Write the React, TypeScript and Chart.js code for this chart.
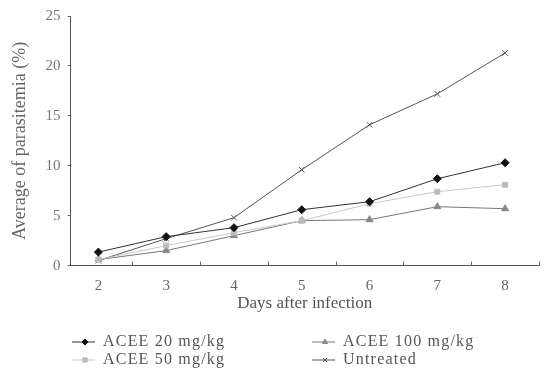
import React, { useEffect, useRef } from "react";
import { Chart, registerables } from "chart.js";
import { drawPoint } from "chart.js/helpers";

Chart.register(...registerables);

const days = [2, 3, 4, 5, 6, 7, 8];
const acee20 = [1.35, 2.9, 3.8, 5.6, 6.4, 8.7, 10.3];
const acee50 = [0.6, 2.0, 3.3, 4.5, 6.2, 7.4, 8.1];
const acee100 = [0.6, 1.5, 3.0, 4.5, 4.6, 5.9, 5.7];
const untreated = [0.5, 2.7, 4.8, 9.6, 14.1, 17.2, 21.3];
const yTicks = [0, 5, 10, 15, 20, 25];

const FONT = "'Liberation Serif', 'DejaVu Serif', serif";

const xTickMarks = {
  id: "xTickMarks",
  afterDraw(chart: any) {
    const ctx = chart.ctx;
    const xs = chart.scales.x;
    const bottom = chart.chartArea.bottom;
    ctx.save();
    ctx.strokeStyle = "#666";
    ctx.lineWidth = 1;
    days.forEach((d) => {
      const v = d + 0.5;
      if (v > xs.max) return;
      const px = Math.round(xs.getPixelForValue(v)) + 0.5;
      ctx.beginPath();
      ctx.moveTo(px, bottom);
      ctx.lineTo(px, bottom - 4);
      ctx.stroke();
    });
    ctx.restore();
  },
};

const legendPlugin = {
  id: "customLegend",
  afterDraw(chart: any) {
    const ctx = chart.ctx;
    const items = [
      { ds: 0, x: 72, y: 342 },
      { ds: 2, x: 312, y: 342 },
      { ds: 1, x: 72, y: 360 },
      { ds: 3, x: 312, y: 360 },
    ];
    ctx.save();
    items.forEach((it) => {
      const d = chart.data.datasets[it.ds];
      ctx.strokeStyle = d.borderColor;
      ctx.lineWidth = 1;
      ctx.beginPath();
      ctx.moveTo(it.x, it.y);
      ctx.lineTo(it.x + 23, it.y);
      ctx.stroke();
      ctx.fillStyle = d.pointBackgroundColor;
      ctx.strokeStyle = d.pointBorderColor;
      drawPoint(
        ctx,
        {
          pointStyle: d.pointStyle,
          radius: 3,
          borderWidth: 1,
          rotation: 0,
        } as any,
        it.x + 13,
        it.y
      );
      ctx.fillStyle = "#555";
      ctx.font = `16px ${FONT}`;
      (ctx as any).letterSpacing = "1.2px";
      ctx.textBaseline = "middle";
      ctx.textAlign = "left";
      ctx.fillText(d.label, it.x + 31, it.y);
    });
    ctx.restore();
  },
};

export default function App() {
  const ref = useRef<HTMLCanvasElement>(null);
  useEffect(() => {
    if (!ref.current) return;
    const mk = (label: string, values: number[], color: string, ptColor: string, style: string, r: number) => ({
      label,
      data: days.map((d, i) => ({ x: d, y: values[i] })),
      borderColor: color,
      backgroundColor: ptColor,
      pointBorderColor: ptColor,
      pointBackgroundColor: ptColor,
      pointStyle: style,
      pointRadius: r,
      borderWidth: 1,
      tension: 0,
    });
    const chart = new Chart(ref.current, {
      type: "line",
      data: {
        datasets: [
          mk("ACEE 20 mg/kg", acee20, "#333", "#111", "rectRot", 4),
          mk("ACEE 50 mg/kg", acee50, "#c8c8c8", "#bbb", "rect", 3.5),
          mk("ACEE 100 mg/kg", acee100, "#777", "#888", "triangle", 4),
          mk("Untreated", untreated, "#555", "#555", "crossRot", 4),
        ],
      },
      options: {
        animation: false,
        responsive: false,
        maintainAspectRatio: false,
        layout: { padding: { left: 9, right: 2, top: 15, bottom: 58 } },
        plugins: { legend: { display: false }, tooltip: { enabled: false } },
        scales: {
          x: {
            type: "linear",
            min: 1.59,
            max: 8.5,
            afterBuildTicks: (axis: any) => {
              axis.ticks = days.map((v) => ({ value: v }));
            },
            grid: { drawOnChartArea: false, drawTicks: false },
            border: { color: "#555" },
            ticks: { color: "#666", font: { family: FONT, size: 15 }, padding: 11 },
            title: {
              display: true,
              text: "Days after infection",
              color: "#555",
              font: { family: FONT, size: 17 },
              padding: { top: -12, bottom: 0 },
            },
          },
          y: {
            min: 0,
            max: 25,
            afterBuildTicks: (axis: any) => {
              axis.ticks = yTicks.map((v) => ({ value: v }));
            },
            grid: { drawOnChartArea: false, drawTicks: true, tickLength: 3, color: "#666" },
            border: { color: "#555" },
            ticks: { color: "#777", font: { family: FONT, size: 15 }, padding: 7 },
            title: {
              display: true,
              text: "Average of parasitemia (%)",
              color: "#666",
              font: { family: FONT, size: 18 },
              padding: { top: 0, bottom: 8 },
            },
          },
        },
      },
      plugins: [legendPlugin, xTickMarks],
    });
    return () => chart.destroy();
  }, []);
  return (
    <div style={{ position: "fixed", left: 0, top: 0, width: 544, height: 372, background: "#fff" }}>
      <canvas ref={ref} width={544} height={372} style={{ width: 544, height: 372 }} />
    </div>
  );
}
